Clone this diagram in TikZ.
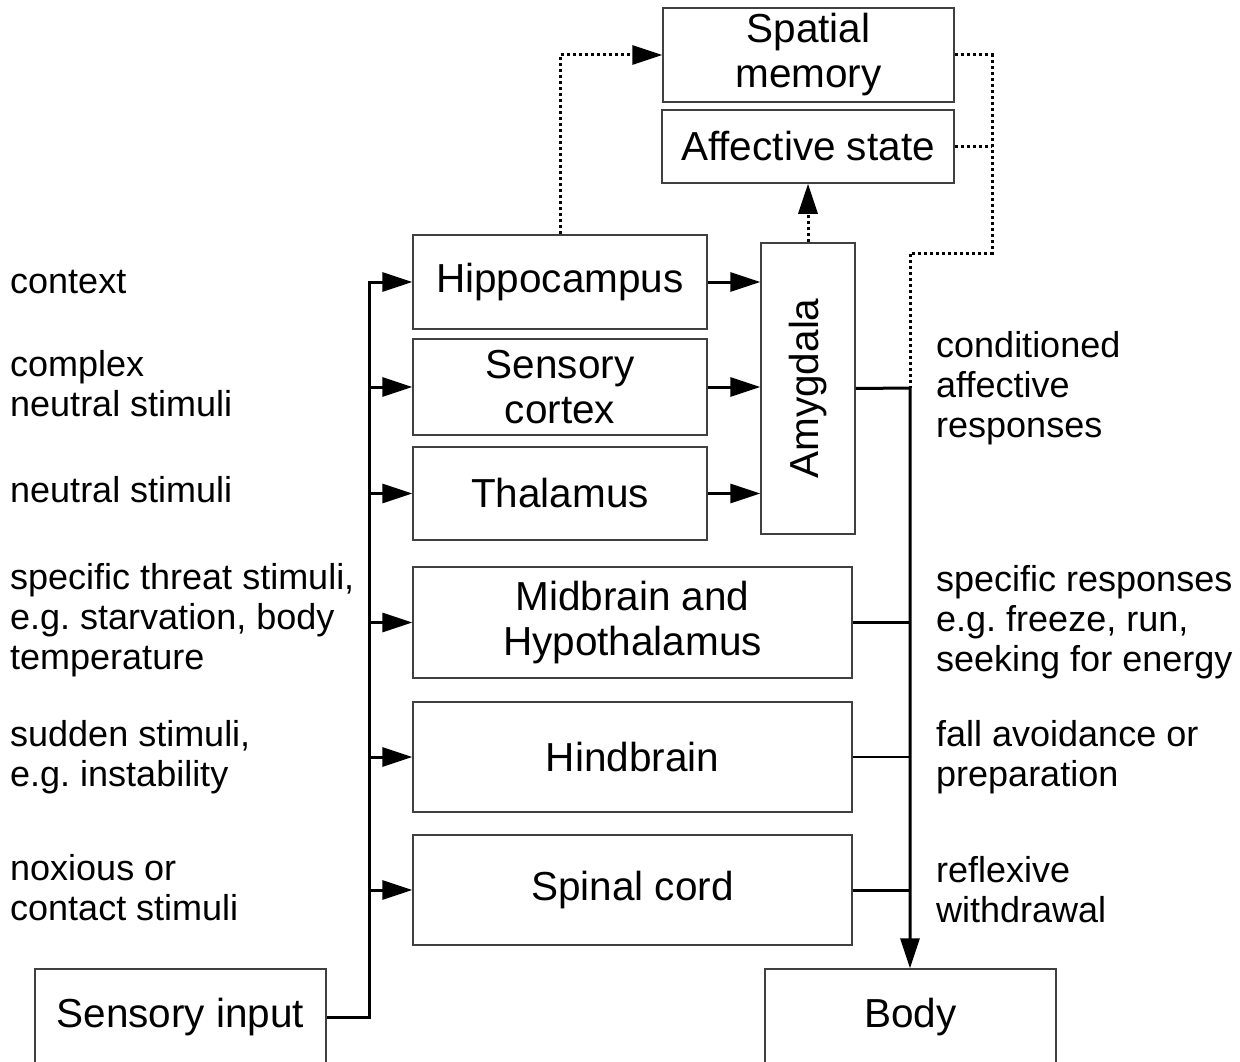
\documentclass[tikz,border=0pt]{standalone}
\usepackage{fontspec}
\usepackage{graphicx}
\setmainfont{Liberation Sans}
\usetikzlibrary{arrows.meta}
\frenchspacing
\begin{document}
\begin{tikzpicture}[x=1pt,y=-1pt,
  box/.style={draw=black!75, line width=1.5pt, inner sep=0pt, align=center,
    font=\fontsize{40.5}{45}\selectfont},
  lbl/.style={anchor=west, align=left, inner sep=0pt,
    font=\fontsize{36}{40}\selectfont},
  bus/.style={line width=3pt},
  thin/.style={line width=1.5pt},
  tip/.style={-{Triangle[length=30pt,width=19pt]}},
  feed/.style={bus, tip},
  dots/.style={line width=3pt, dash pattern=on 3pt off 3pt},
]
\clip (0,0) rectangle (1240,1062);
\fill[white] (0,0) rectangle (1240,1062);

% boxes
\node[box, minimum width=291pt, minimum height=94pt] (mem) at (808.5,55) {Spatial\\memory};
\node[box, minimum width=292pt, minimum height=73pt] (aff) at (808,146.5) {Affective state};
\node[box, minimum width=294pt, minimum height=94pt] (hip) at (560,282) {Hippocampus};
\node[box, minimum width=294pt, minimum height=96pt] (sen) at (560,387) {Sensory\\cortex};
\node[box, minimum width=294pt, minimum height=93pt] (tha) at (560,493.5) {Thalamus};
\node[box, minimum width=94pt, minimum height=291pt] (amy) at (808,388.5) {\rotatebox{90}{Amygdala}};
\node[box, minimum width=439pt, minimum height=111pt] (mid) at (632.5,622.5) {Midbrain and\\Hypothalamus};
\node[box, minimum width=439pt, minimum height=110pt] (hind) at (632.5,757) {Hindbrain};
\node[box, minimum width=439pt, minimum height=110pt] (spin) at (632.5,890) {Spinal cord};
\node[box, minimum width=291pt, minimum height=96pt] (sin) at (180.5,1017) {Sensory input};
\node[box, minimum width=291pt, minimum height=96pt] (body) at (910.5,1017) {Body};

% stimulus labels
\node[lbl] (l1) at (10,282) {context};
\node[lbl] (l2) at (10,384) {complex\\neutral stimuli};
\node[lbl] (l3) at (10,490) {neutral stimuli};
\node[lbl] (l4) at (10,620) {specific threat stimuli,\\e.g. starvation, body\\temperature};
\node[lbl] (l5) at (10,757) {sudden stimuli,\\e.g. instability};
\node[lbl] (l6) at (10,888) {noxious or\\contact stimuli};

% response labels
\node[lbl] (r1) at (936,388) {conditioned\\affective\\responses};
\node[lbl] (r2) at (936,622) {specific responses\\e.g. freeze, run,\\seeking for energy};
\node[lbl] (r3) at (936,757) {fall avoidance or\\preparation};
\node[lbl] (r4) at (936,890) {reflexive\\withdrawal};

% input bus
\coordinate (busB) at (369,1017);
\coordinate (busT) at (369,282);
\draw[feed, line join=miter] (sin.east) -- (busB) -- (busT) -- (hip.west);
\foreach \n in {sen,tha,mid,hind,spin}
  \draw[feed] (busT |- \n.west) -- (\n.west);

% into the amygdala
\foreach \n in {hip,sen,tha}
  \draw[feed] (\n.east) -- (\n.east -| amy.west);

% output bus
\coordinate (outT) at (910,388);
\draw[feed, line join=miter] (amy.east) -- (outT) -- (outT |- body.north);
\draw[bus] (mid.east) -- (mid.east -| outT);
\draw[thin] (hind.east) -- (hind.east -| outT);
\draw[bus] (spin.east) -- (spin.east -| outT);

% dotted links
\draw[dots, tip] (hip.north) -- (hip.north |- mem.west) -- (mem.west);
\draw[dots, tip] (amy.north) -- (aff.south);
\coordinate (dR) at (992,253);
\coordinate (dL) at (910,253);
\draw[dots] (mem.east) -- (mem.east -| dR) -- (dR) -- (dL) -- (outT);
\draw[dots] (aff.east) -- (aff.east -| dR);
\end{tikzpicture}
\end{document}
